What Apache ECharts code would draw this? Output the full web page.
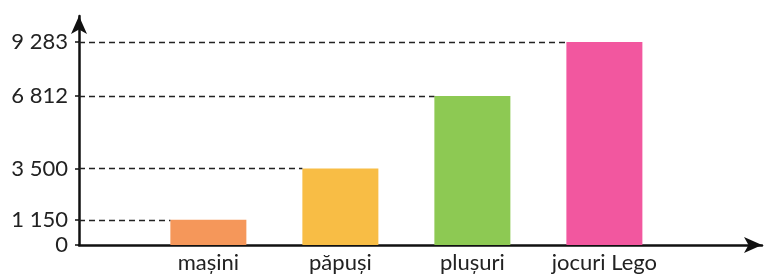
<!DOCTYPE html>
<html>
<head>
<meta charset="utf-8">
<script src="https://cdn.jsdelivr.net/npm/echarts@6/dist/echarts.min.js"></script>
<style>
  html, body { margin: 0; padding: 0; background: #fff; }
  #chart { width: 771px; height: 277px; }
</style>
</head>
<body>
<div id="chart"></div>
<script>
// toys sold, one bar per kind
const categories = ['mașini', 'păpuși', 'plușuri', 'jocuri Lego'];
const values = [1150, 3500, 6812, 9283];
const colors = ['#f5975a', '#f8bd45', '#8dc953', '#f2579f'];
const yTicks = [0, 1150, 3500, 6812, 9283];

window.onload = function () {
    run_chart();
}

function fmt(v)
{
    // thousands separated by a space, like in the book
    return String(v).replace(/\B(?=(\d{3})+(?!\d))/g, ' ');
}

function run_chart()
{
    const chart = echarts.init(document.getElementById('chart'));
    const font = 'Lato, "Open Sans", sans-serif';
    const bar_width = 76;
    const px_per_unit = 132;   // x axis: one bar slot
    const half_bar = bar_width / 2 / px_per_unit;

    let bar_data = [];
    let guide_lines = [];
    for( let i = 0; i < categories.length; i++ )
    {
        bar_data.push({ value: [i + 1, values[i]], itemStyle: { color: colors[i] } });
        // dashed guide from the y axis up to the left side of the bar
        guide_lines.push([ { coord: [0.02, values[i]] }, { coord: [i + 1 - half_bar, values[i]] } ]);
    }

    const axis_line = {
        show: true,
        symbol: ['none', 'arrow'],
        symbolSize: [12, 18],
        lineStyle: { color: '#111', width: 2.5 }
    };

    chart.setOption({
        animation: false,
        grid: { left: 79, right: 9, top: 16, bottom: 32, containLabel: false },
        xAxis: {
            type: 'value',
            min: 0.02,
            max: 5.194,
            axisLine: axis_line,
            axisTick: { show: false },
            splitLine: { show: false },
            axisLabel: {
                customValues: [1, 2, 3, 4],
                formatter: (v) => categories[Math.round(v) - 1] || '',
                color: '#222',
                fontFamily: font,
                fontSize: 22,
                margin: 7
            }
        },
        yAxis: {
            type: 'value',
            min: 0,
            max: 10470,
            axisLine: axis_line,
            axisTick: {
                show: true,
                customValues: yTicks,
                length: 4,
                lineStyle: { color: '#111', width: 1.5 }
            },
            splitLine: { show: false },
            axisLabel: {
                customValues: yTicks,
                formatter: fmt,
                color: '#222',
                fontFamily: font,
                fontSize: 22,
                margin: 11
            }
        },
        series: [{
            type: 'bar',
            barWidth: bar_width,
            data: bar_data,
            markLine: {
                silent: true,
                symbol: ['none', 'none'],
                label: { show: false },
                lineStyle: { color: '#222', width: 1.3, type: [6, 4] },
                data: guide_lines
            }
        }]
    });
}
</script>
</body>
</html>
